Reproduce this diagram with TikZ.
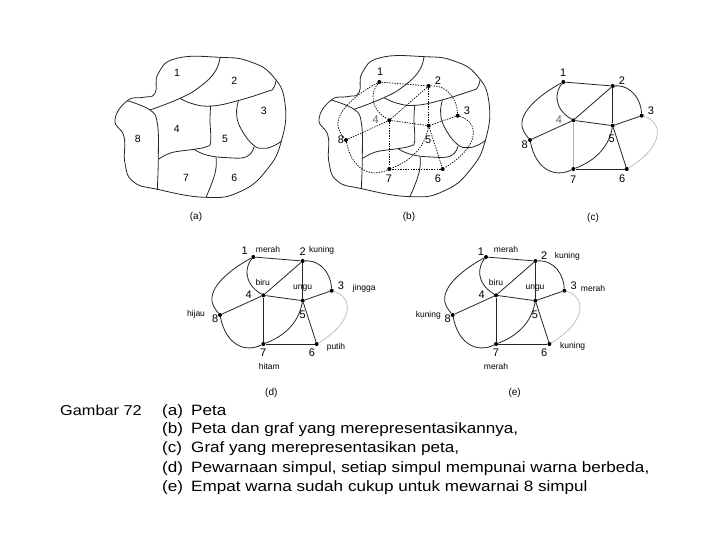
\documentclass[tikz,border=0pt]{standalone}
\usepackage{fontspec}
\setmainfont{Liberation Sans}
\newfontfamily\teksfont[FakeStretch=1.14]{Liberation Sans}
\tikzset{
  peta/.style={line width=0.8pt,black!85},
  garis/.style={line width=0.8pt,black!85},
  garistepi/.style={line width=0.6pt,black!30},
  garistitik/.style={line width=0.7pt,black,dash pattern=on 1.4pt off 1.2pt},
  simpul/.style={circle,fill=black,inner sep=0pt,minimum size=4pt},
  angkapeta/.style={font=\fontsize{10.5}{12}\selectfont},
  angka/.style={font=\fontsize{11}{13}\selectfont},
  warna/.style={font=\fontsize{8.5}{10}\selectfont},
  judul/.style={font=\fontsize{10}{11}\selectfont},
  teks/.style={anchor=base west,inner sep=0pt,font=\teksfont\fontsize{15}{18}\selectfont},
}
\newcommand{\gambarpeta}[2]{
  \begin{scope}[shift={(#1,#2)},scale=1/3]
    \draw[peta] plot[smooth cycle,tension=0.8] coordinates {(360,52) (450,65) (520,110) (555,190) (545,300) (500,390) (420,455) (318,472) (172,448) (100,425) (75,370) (72,290) (45,240) (82,182) (130,172) (165,160) (175,100) (230,55)};
    \draw[peta] plot[smooth,tension=0.8] coordinates {(360,52) (345,95) (300,140) (240,175) (150,210)};
    \draw[peta] plot[smooth,tension=0.7] coordinates {(82,182) (150,210) (172,250) (175,350) (172,448)};
    \draw[peta] plot[smooth,tension=0.8] coordinates {(240,175) (280,192) (335,198) (410,183) (500,155) (520,145) (528,122)};
    \draw[peta] plot[smooth,tension=0.7] coordinates {(332,198) (330,240) (332,305) (320,320) (282,328) (215,338) (175,358)};
    \draw[peta] plot[smooth,tension=0.8] coordinates {(282,328) (320,345) (380,353) (440,350) (462,320)};
    \draw[peta] plot[smooth,tension=0.8] coordinates {(415,183) (410,225) (425,270) (460,315) (490,325) (520,318) (545,303)};
    \draw[peta] plot[smooth,tension=0.8] coordinates {(348,352) (345,400) (318,472)};
  \end{scope}
}
\newcommand{\gambargraf}[6]{
  \begin{scope}[shift={(#2,#3)}]
    \node[simpul] (#1v1) at (563.3,82) {};
    \node[simpul] (#1v2) at (612.7,86) {};
    \node[simpul] (#1v3) at (641.7,115.7) {};
    \node[simpul] (#1v4) at (573.3,120.3) {};
    \node[simpul] (#1v5) at (612.7,125.7) {};
    \node[simpul] (#1v6) at (626.7,169) {};
    \node[simpul] (#1v7) at (573.3,169) {};
    \node[simpul] (#1v8) at (530,140) {};
    \draw[#4] (#1v1)--(#1v2);
    \draw[#4] (#1v2)--(#1v5);
    \draw[#4] (#1v2)--(#1v4);
    \draw[#4] (#1v3)--(#1v5);
    \draw[#4] (#1v4)--(#1v5);
    \draw[#4] (#1v4)--(#1v8);
    \draw[#4] (#1v5)--(#1v6);
    \draw[#4] (#1v6)--(#1v7);
    \draw[#6] (#1v4)--(#1v7);
    \draw[#4] (#1v1) .. controls (548,90) and (524,106) .. (522,122) .. controls (521,129) and (525,134) .. (#1v8);
    \draw[#4] (#1v1) .. controls (555,92) and (553,108) .. (#1v4);
    \draw[#4] (#1v2) .. controls (632,85) and (641,100) .. (#1v3);
    \draw[#5] (#1v3) .. controls (663,122) and (665,146) .. (#1v6);
    \draw[#4] (#1v5) .. controls (608,150) and (592,162) .. (#1v7);
    \draw[#4] (#1v8) .. controls (536,170) and (555,178) .. (#1v7);
  \end{scope}
}
\begin{document}
\begin{tikzpicture}[x=1pt,y=-1pt]
  \useasboundingbox (0,0) rectangle (720,540);
  \fill[white] (0,0) rectangle (720,540);

  \gambarpeta{100}{40}
  \node[angkapeta] (a1) at (177,72.7) {1};
  \node[angkapeta] (a2) at (234.3,81) {2};
  \node[angkapeta] (a3) at (263.7,111) {3};
  \node[angkapeta] (a4) at (176.7,129.3) {4};
  \node[angkapeta] (a5) at (225,139.3) {5};
  \node[angkapeta] (a6) at (234.3,178.3) {6};
  \node[angkapeta] (a7) at (186,178.3) {7};
  \node[angkapeta] (a8) at (137.7,139.3) {8};
  \node[judul] (capa) at (196,217.3) {(a)};

  \gambarpeta{304}{39.3}
  \gambargraf{b}{-184}{0}{garistitik}{garistitik}{garistitik}
  \node[angka] (b1) at (380.3,71.7) {1};
  \node[angka] (b2) at (438,81) {2};
  \node[angka] (b3) at (467,110.7) {3};
  \node[angka,black!60] (b4) at (375.7,120) {4};
  \node[angka] (b5) at (428.3,139.7) {5};
  \node[angka] (b6) at (438,178.7) {6};
  \node[angka] (b7) at (389,179) {7};
  \node[angka] (b8) at (341,140) {8};
  \node[judul] (capb) at (409,217.3) {(b)};

  \gambargraf{c}{0}{0}{garis}{garistepi}{garistepi}
  \node[angka] (c1) at (563.3,72.7) {1};
  \node[angka] (c2) at (622,81) {2};
  \node[angka] (c3) at (651,110.7) {3};
  \node[angka,black!60] (c4) at (559,120) {4};
  \node[angka] (c5) at (611.7,139) {5};
  \node[angka] (c6) at (622.3,178.7) {6};
  \node[angka] (c7) at (573.3,179.3) {7};
  \node[angka] (c8) at (524.7,144.3) {8};
  \node[judul] (capc) at (593,218) {(c)};

  \gambargraf{d}{-310}{175}{garis}{garistepi}{garis}
  \node[angka] (d1) at (244.7,251) {1};
  \node[angka] (d2) at (302.7,251.7) {2};
  \node[angka] (d3) at (341,285.7) {3};
  \node[angka] (d4) at (248.7,294.3) {4};
  \node[angka] (d5) at (302.7,314.3) {5};
  \node[angka] (d6) at (312,353) {6};
  \node[angka] (d7) at (263.3,352.7) {7};
  \node[angka] (d8) at (215.3,319) {8};
  \node[warna] (dmerah) at (268,249.3) {merah};
  \node[warna] (dkuning) at (321.7,250) {kuning};
  \node[warna] (djingga) at (364.3,288.7) {jingga};
  \node[warna] (dbiru) at (262.7,282.7) {biru};
  \node[warna] (dungu) at (302.7,288.3) {ungu};
  \node[warna] (dhijau) at (196,314.3) {hijau};
  \node[warna] (dputih) at (336,347.3) {putih};
  \node[warna] (dhitam) at (269.3,366.3) {hitam};
  \node[judul] (capd) at (271.3,393) {(d)};

  \gambargraf{e}{-77.3}{175}{garis}{garistepi}{garis}
  \node[angka] (e1) at (481,251.7) {1};
  \node[angka] (e2) at (544.3,256) {2};
  \node[angka] (e3) at (573.7,285.7) {3};
  \node[angka] (e4) at (481.7,294.3) {4};
  \node[angka] (e5) at (535,314.3) {5};
  \node[angka] (e6) at (544.3,353) {6};
  \node[angka] (e7) at (496,352.7) {7};
  \node[angka] (e8) at (447.7,319) {8};
  \node[warna] (emerah) at (506,249.3) {merah};
  \node[warna] (ekuning) at (567.3,256.7) {kuning};
  \node[warna] (emerahb) at (593,288.3) {merah};
  \node[warna] (ebiru) at (496,282.7) {biru};
  \node[warna] (eungu) at (535,288.3) {ungu};
  \node[warna] (ekuningb) at (428.3,315) {kuning};
  \node[warna] (ekuningc) at (572.7,346.7) {kuning};
  \node[warna] (emerahc) at (496,366) {merah};
  \node[judul] (cape) at (514.7,393) {(e)};

  \node[teks,font=\teksfont\fontsize{14.3}{18}\selectfont] (gambar) at (60,415) {Gambar 72};
  \node[teks] (la) at (162,415) {(a)};
  \node[teks] (lb) at (162,433.5) {(b)};
  \node[teks] (lc) at (162,452) {(c)};
  \node[teks] (ld) at (162,472) {(d)};
  \node[teks] (le) at (162,491.5) {(e)};
  \node[teks] (ta) at (191,415) {Peta};
  \node[teks] (tb) at (191,433.5) {Peta dan graf yang merepresentasikannya,};
  \node[teks] (tc) at (191,452) {Graf yang merepresentasikan peta,};
  \node[teks] (td) at (191,472) {Pewarnaan simpul, setiap simpul mempunai warna berbeda,};
  \node[teks] (te) at (191,491.5) {Empat warna sudah cukup untuk mewarnai 8 simpul};
\end{tikzpicture}
\end{document}
